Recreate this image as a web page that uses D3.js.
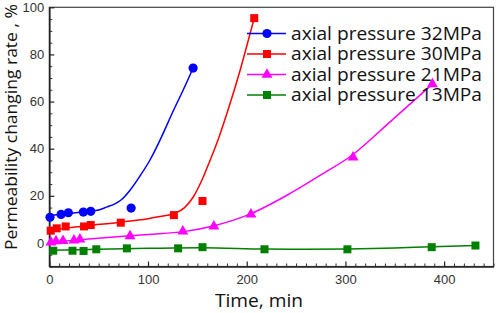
<!DOCTYPE html>
<html lang="en">
<head>
<meta charset="UTF-8">
<title>Permeability changing rate</title>
<script src="https://d3js.org/d3.v7.min.js"></script>
<style>
    body { margin: 0; background: #fff; }
    .tick text { font-family: "Liberation Sans", Arial, sans-serif; font-size: 13px; fill: #333; }
    .lbl { font-family: "Open Sans", "Noto Sans", sans-serif; font-weight: 400; fill: #111; }
</style>
</head>
<body>
<div id="chart"></div>
<script>
    // series names / colours
    const seriesNames = ["axial pressure 32MPa", "axial pressure 30MPa", "axial pressure 21MPa", "axial pressure 13MPa"];
    const seriesColors = ["#0000ff", "#ff0000", "#ff00ff", "#008000"];
    const seriesShapes = ["circle", "square", "triangle", "square"];

    // measured points (time in min, rate in %)
    const p32Time = [0.7, 11.9, 19.3, 34.5, 42, 82.9, 145.7];
    const p32Rate = [10.9, 12.1, 12.8, 13.1, 13.4, 14.8, 74.2];
    const p30Time = [1.4, 7.5, 16.6, 35.2, 42, 72.4, 126.2, 155.2, 207.6];
    const p30Rate = [5.2, 6.2, 7.0, 7.0, 7.6, 8.6, 11.8, 17.8, 95.4];
    const p21Time = [1.7, 6.8, 13.9, 25, 31, 81.8, 135.3, 166.7, 204.3, 307.7, 388.1];
    const p21Rate = [0.25, 0.8, 0.9, 1.1, 1.5, 2.9, 4.9, 7.0, 12.1, 36.3, 67.4];
    const p13Time = [4, 23.5, 34.7, 47.6, 78.6, 130.5, 155.2, 218, 302, 387.4, 431.7];
    const p13Rate = [-3.3, -3.3, -3.4, -2.7, -2.3, -2.3, -1.8, -2.7, -2.7, -1.8, -1.1];

    // fitted curves
    const f32Time = [0, 20, 40, 50, 58, 66, 72, 82, 92, 102, 112, 126, 136, 145.7];
    const f32Rate = [11.6, 12.5, 13.4, 14.0, 15.2, 16.5, 18.0, 22.5, 28.5, 35.2, 43.5, 56.4, 65.2, 74.2];
    const f30Time = [0, 20, 40, 72, 100, 112, 127.5, 137, 146, 155, 163, 172, 180, 193.4, 203.5, 207.6];
    const f30Rate = [5.2, 6.5, 7.4, 8.8, 10.3, 11.2, 12.6, 15.0, 19.6, 27.0, 35.2, 45.0, 55.0, 73.4, 89.0, 95.4];
    const f21Time = [0, 30, 72, 100, 136, 166, 202, 244, 278, 306, 345.5, 388.1];
    const f21Rate = [0.3, 1.3, 2.7, 3.6, 4.8, 7.2, 12.0, 21.0, 29.6, 37.0, 51.5, 67.4];
    const f13Time = [0, 50, 100, 155, 218, 260, 302, 350, 388, 432];
    const f13Rate = [-3.1, -2.7, -2.3, -2.0, -2.6, -2.7, -2.6, -2.2, -1.6, -1.1];

    const xMajor = [0, 100, 200, 300, 400];
    const yMajor = [0, 20, 40, 60, 80, 100];

    const pointsTime = [p32Time, p30Time, p21Time, p13Time];
    const pointsRate = [p32Rate, p30Rate, p21Rate, p13Rate];
    const fitTime = [f32Time, f30Time, f21Time, f13Time];
    const fitRate = [f32Rate, f30Rate, f21Rate, f13Rate];

    const W = 498, H = 313;
    const x = d3.scaleLinear().domain([0, 450]).range([49.3, 493.5]);
    const y = d3.scaleLinear().domain([-10, 100]).range([266.5, 7.3]);

    const svg = d3.select("#chart").append("svg")
        .attr("width", W).attr("height", H);

    // minor ticks (inward)
    const xMinor = d3.range(0, 451, 10).filter(v => v % 100 !== 0);
    const yMinor = d3.range(-10, 101, 5).filter(v => v % 20 !== 0);

    svg.append("g")
        .attr("transform", "translate(0," + y(-10) + ")")
        .call(d3.axisBottom(x).tickValues(xMinor).tickSize(-3).tickSizeOuter(0).tickFormat(""))
        .call(g => g.select(".domain").remove())
        .selectAll("line").attr("stroke", "#333");
    svg.append("g")
        .attr("transform", "translate(" + x(0) + ",0)")
        .call(d3.axisLeft(y).tickValues(yMinor).tickSize(-3).tickSizeOuter(0).tickFormat(""))
        .call(g => g.select(".domain").remove())
        .selectAll("line").attr("stroke", "#333");

    // frame
    svg.append("rect")
        .attr("x", x(0)).attr("y", y(100))
        .attr("width", x(450) - x(0)).attr("height", y(-10) - y(100))
        .attr("fill", "none").attr("stroke", "#444").attr("stroke-width", 1.2);

    // main axes
    const xAxis = svg.append("g")
        .attr("transform", "translate(0," + y(-10) + ")")
        .call(d3.axisBottom(x).tickValues(xMajor).tickSize(-5).tickSizeOuter(0).tickPadding(8));
    const yAxis = svg.append("g")
        .attr("transform", "translate(" + x(0) + ",0)")
        .call(d3.axisLeft(y).tickValues(yMajor).tickSize(-5).tickSizeOuter(0).tickPadding(5));
    [xAxis, yAxis].forEach(a => {
        a.select(".domain").attr("stroke", "#222").attr("stroke-width", 1.6);
        a.selectAll(".tick line").attr("stroke", "#222").attr("stroke-width", 1.2);
    });

    // fitted lines
    const line = d3.line()
        .x(d => x(d[0]))
        .y(d => y(d[1]))
        .curve(d3.curveMonotoneX);

    fitTime.forEach((t, i) => {
        svg.append("path")
            .datum(t.map((v, j) => [v, fitRate[i][j]]))
            .attr("fill", "none")
            .attr("stroke", seriesColors[i])
            .attr("stroke-width", 1.5)
            .attr("d", line);
    });

    function marker(g, shape, color, cx, cy) {
        if (shape === "circle") {
            g.append("circle").attr("cx", cx).attr("cy", cy).attr("r", 4.6).attr("fill", color);
        } else if (shape === "square") {
            g.append("rect").attr("x", cx - 4).attr("y", cy - 4).attr("width", 8).attr("height", 8).attr("fill", color);
        } else {
            g.append("path")
                .attr("d", d3.symbol().type(d3.symbolTriangle).size(52)())
                .attr("transform", "translate(" + cx + "," + cy + ")")
                .attr("fill", color);
        }
    }

    // measured points
    const pts = svg.append("g");
    pointsTime.forEach((t, i) => {
        t.forEach((v, j) => marker(pts, seriesShapes[i], seriesColors[i], x(v), y(pointsRate[i][j])));
    });

    // legend
    const legend = svg.append("g");
    seriesNames.forEach((name, i) => {
        const ly = 33.5 + i * 20.5;
        legend.append("line")
            .attr("x1", 247).attr("x2", 286).attr("y1", ly).attr("y2", ly)
            .attr("stroke", seriesColors[i]).attr("stroke-width", 1.5);
        marker(legend, seriesShapes[i], seriesColors[i], 267, ly);
        legend.append("text")
            .attr("class", "lbl")
            .attr("x", 291).attr("y", ly + 6)
            .attr("font-size", 18)
            .attr("textLength", 191)
            .attr("lengthAdjust", "spacingAndGlyphs")
            .text(name);
    });

    // axis titles
    svg.append("text")
        .attr("class", "lbl")
        .attr("x", 259).attr("y", 307)
        .attr("text-anchor", "middle")
        .attr("font-size", 18)
        .attr("textLength", 88)
        .attr("lengthAdjust", "spacingAndGlyphs")
        .text("Time, min");

    svg.append("text")
        .attr("class", "lbl")
        .attr("transform", "translate(17,127) rotate(-90)")
        .attr("text-anchor", "middle")
        .attr("font-size", 17)
        .attr("textLength", 246)
        .attr("lengthAdjust", "spacingAndGlyphs")
        .text("Permeability changing rate , %");
</script>
</body>
</html>
